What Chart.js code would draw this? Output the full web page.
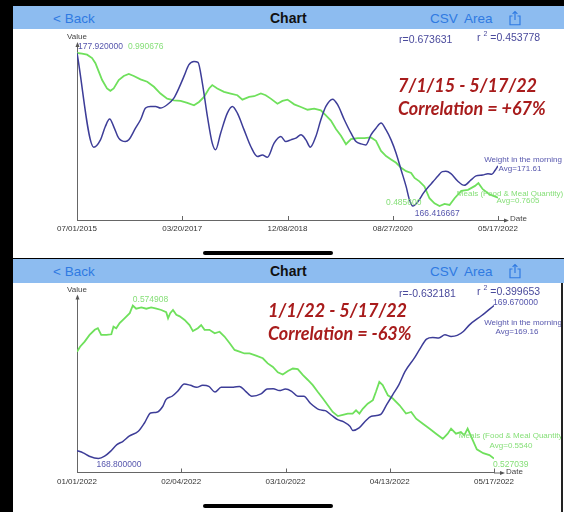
<!DOCTYPE html>
<html>
<head>
<meta charset="utf-8">
<script src="https://cdn.jsdelivr.net/npm/chart.js@4.4.1/dist/chart.umd.min.js"></script>
<style>
  body { margin: 0; width: 564px; height: 512px; background: #000; position: relative; overflow: hidden;
         font-family: "Liberation Sans", Arial, sans-serif; }
  .abs { position: absolute; }
  .panel { position: absolute; left: 13px; width: 551px; background: #fff; overflow: hidden; }
  .nav { position: absolute; left: 0; width: 551px; background: #8dbcf0; }
  .nav span { position: absolute; top: 50%; transform: translateY(-50%); white-space: nowrap; }
  .link { color: #2f7ae2; font-size: 13.5px; }
  .title { font-weight: bold; font-size: 14px; color: #111; }
  .home { position: absolute; left: 190px; width: 130px; height: 4px; border-radius: 2px; background: #000; }
  .rtxt { position: absolute; color: #4a4a9c; font-size: 10.5px; white-space: nowrap; }
  .rtxt sup { font-size: 7px; }
  .red { position: absolute; color: #a81c1c; font-family: "Lato", sans-serif;
         font-weight: bold; font-style: italic; font-size: 18px; white-space: nowrap; line-height: 23px; }
  canvas { position: absolute; left: 0; }
</style>
</head>
<body>

<div class="panel" style="top:6px;height:252px">
  <div class="nav" style="top:0;height:23px">
    <span class="link" style="left:40px">&lt; Back</span>
    <span class="title" style="left:257px">Chart</span>
    <span class="link" style="left:417px">CSV</span>
    <span class="link" style="left:451px">Area</span>
    <span style="left:496px;height:15px"><svg width="12" height="15" viewBox="0 0 12 15"><path d="M3.5 5.5H1v8.8h10V5.5H8.5M6 9.5V1M3.6 3.4L6 1l2.4 2.4" fill="none" stroke="#2f7ae2" stroke-width="1.2"/></svg></span>
  </div>
  <canvas id="chart1" width="551" height="228" style="top:23px"></canvas>
  <div class="home" style="top:245px"></div>
</div>

<div class="panel" style="top:259px;height:253px">
  <div class="nav" style="top:0;height:24px">
    <span class="link" style="left:40px">&lt; Back</span>
    <span class="title" style="left:257px">Chart</span>
    <span class="link" style="left:417px">CSV</span>
    <span class="link" style="left:451px">Area</span>
    <span style="left:496px;height:15px"><svg width="12" height="15" viewBox="0 0 12 15"><path d="M3.5 5.5H1v8.8h10V5.5H8.5M6 9.5V1M3.6 3.4L6 1l2.4 2.4" fill="none" stroke="#2f7ae2" stroke-width="1.2"/></svg></span>
  </div>
  <canvas id="chart2" width="548" height="229" style="top:24px"></canvas>
  <div class="home" style="top:245px"></div>
</div>
<div class="abs" style="left:561px;top:283px;width:2px;height:229px;background:#222"></div>

<div id="overlay"></div>

<script>
// ---- textes ----
const seriesNames = ['Weight in the morning', 'Meals (Food & Meal Quantity)'];
const periods = ['7/1/15 - 5/17/22', '1/1/22 - 5/17/22'];
const correlations = ['+67%', '-63%'];
const rValues = [0.673631, -0.632181];
const r2Values = [0.453778, 0.399653];

// ---- grafico 1: 07/01/2015 - 05/17/2022 (dias desde o inicio) ----
const tickDays1 = [0, 628, 1256, 1884, 2512];
const tickLabels1 = ['07/01/2015', '03/20/2017', '12/08/2018', '08/27/2020', '05/17/2022'];
const weightDays1 = [0, 100, 140, 169, 195, 219, 249, 289, 309, 349, 379, 409, 439, 469, 498, 538, 578, 608, 638, 668,
  698, 722, 748, 778, 807, 827, 857, 897, 927, 957, 997, 1037, 1077, 1106, 1136, 1176, 1216, 1246, 1276, 1306,
  1336, 1366, 1392, 1425, 1455, 1485, 1525, 1555, 1595, 1635, 1665, 1695, 1724, 1754, 1784, 1814, 1844, 1874, 1904, 1934,
  1964, 1984, 2004, 2034, 2068, 2100, 2125, 2152, 2180, 2201, 2231, 2271, 2311, 2351, 2381, 2421, 2452, 2475, 2495, 2512];
const weightVals1 = [177.92, 170.84, 171.39, 172.39, 172.95, 172.39, 171.52, 171.26, 171.39, 172.27, 172.90, 173.78, 173.90, 173.90, 173.78, 174.03, 174.53, 175.28, 176.16, 177.04,
  177.29, 177.22, 175.66, 173.15, 171.14, 170.64, 171.89, 173.40, 173.90, 173.40, 172.14, 170.89, 170.13, 170.26, 170.08, 171.14, 171.64, 171.26, 171.39, 171.52,
  171.77, 171.39, 170.84, 171.64, 172.90, 173.90, 174.45, 174.03, 172.90, 171.89, 171.26, 171.09, 171.01, 171.77, 172.27, 172.65, 172.14, 171.39, 170.39, 169.13,
  167.87, 166.87, 166.416667, 166.74, 167.40, 167.90, 168.25, 168.65, 169.00, 169.02, 168.85, 168.30, 167.97, 168.38, 168.68, 168.75, 168.85, 168.80, 169.10, 169.43];
const mealDays1 = [0, 30, 60, 90, 110, 130, 150, 179, 199, 219, 249, 279, 309, 339, 379, 419, 459, 498, 538, 578,
  618, 658, 698, 728, 758, 788, 807, 837, 877, 917, 957, 987, 1027, 1057, 1097, 1126, 1156, 1196, 1226, 1256,
  1296, 1336, 1376, 1415, 1455, 1485, 1515, 1545, 1575, 1605, 1635, 1675, 1714, 1754, 1784, 1814, 1844, 1874, 1904, 1934,
  1964, 1994, 2014, 2043, 2073, 2103, 2133, 2163, 2193, 2223, 2253, 2293, 2333, 2375, 2395, 2421, 2462, 2512];
const mealVals1 = [0.990676, 0.9884, 0.9851, 0.9739, 0.9572, 0.9294, 0.9015, 0.8736, 0.8658, 0.8736, 0.9015, 0.9149, 0.9216, 0.9149, 0.9037, 0.8959, 0.8792, 0.8569, 0.8401, 0.8346,
  0.8324, 0.8257, 0.8179, 0.8290, 0.8457, 0.8736, 0.8848, 0.8736, 0.8625, 0.8569, 0.8513, 0.8368, 0.8457, 0.8480, 0.8569, 0.8513, 0.8401, 0.8234, 0.8324, 0.8368,
  0.8212, 0.8123, 0.8034, 0.8067, 0.8011, 0.7844, 0.7677, 0.7398, 0.7175, 0.6896, 0.7064, 0.7097, 0.7097, 0.7119, 0.7008, 0.6673, 0.6506, 0.6394, 0.6283, 0.6116,
  0.6004, 0.5949, 0.5781, 0.5670, 0.5503, 0.5112, 0.4945, 0.4856, 0.4923, 0.4889, 0.5112, 0.5357, 0.5391, 0.5520, 0.5610, 0.5410, 0.5240, 0.5130];
const averages1 = ['171.61', '0.7605'];

// ---- grafico 2: 01/01/2022 - 05/17/2022 ----
const tickDays2 = [0, 34, 68, 102, 136];
const tickLabels2 = ['01/01/2022', '02/04/2022', '03/10/2022', '04/13/2022', '05/17/2022'];
const weightDays2 = [0, 2, 4, 7, 9, 11, 13, 15, 17, 20, 22, 24, 26, 28, 29, 31, 33, 35, 37, 39,
  41, 43, 45, 47, 49, 51, 53, 55, 57, 60, 62, 64, 66, 68, 70, 72, 74, 76, 79, 81,
  83, 85, 87, 89, 90, 92, 94, 96, 99, 101, 103, 105, 107, 110, 112, 114, 116, 118, 120, 122,
  124, 126, 128, 132, 136];
const weightVals2 = [168.845, 168.832, 168.813, 168.800, 168.813, 168.842, 168.879, 168.898, 168.927, 168.955, 169.002, 169.059, 169.063, 169.097, 169.135, 169.154, 169.186, 169.224, 169.216, 169.205,
  169.216, 169.210, 169.178, 169.205, 169.205, 169.205, 169.210, 169.182, 169.154, 169.167, 169.195, 169.197, 169.186, 169.195, 169.182, 169.154, 169.154, 169.116, 169.078, 169.072,
  169.046, 169.021, 169.008, 168.983, 168.959, 168.974, 169.012, 169.040, 169.050, 169.106, 169.163, 169.220, 169.295, 169.371, 169.428, 169.479, 169.488, 169.485, 169.503, 169.494,
  169.500, 169.522, 169.560, 169.613, 169.670];
const mealDays2 = [0, 1, 2.5, 4.1, 5.8, 6.8, 7.9, 9.6, 11.2, 11.9, 12.8, 13.9, 15.5, 17.2, 18.2, 19.3, 21, 22.6, 24.2, 25.9,
  27.5, 29.1, 29.7, 30.4, 31.3, 32.4, 33.5, 35.1, 36.7, 37.8, 39.4, 40.5, 41.6, 43.2, 44.9, 46.5, 48.1, 49.8, 51.4, 53,
  54.6, 56.3, 58.4, 60.6, 62.2, 63.9, 65.5, 67.1, 68.8, 70.4, 72, 73.7, 75.3, 76.9, 78.5, 80.2, 81.8, 83.4, 85.1, 86.7,
  88.3, 89.9, 91, 92.1, 93.2, 94.8, 96.5, 97.5, 98.6, 99.7, 101.4, 103, 105.2, 107.3, 109, 110.6, 112.8, 114.9, 117.1, 119.3,
  120.9, 122, 123.6, 125.2, 126.3, 127.4, 128.7, 130.4, 132.5, 134.5, 136];
const mealVals2 = [0.5604, 0.5620, 0.5636, 0.5657, 0.5673, 0.5678, 0.5657, 0.5657, 0.5659, 0.5683, 0.5678, 0.5694, 0.5709, 0.5725, 0.574908, 0.5739, 0.5743, 0.5739, 0.5743, 0.5739,
  0.5735, 0.5728, 0.5709, 0.5725, 0.5735, 0.5720, 0.5715, 0.5704, 0.5688, 0.5669, 0.5678, 0.5688, 0.5673, 0.5673, 0.5662, 0.5667, 0.5652, 0.5631, 0.5610, 0.5605,
  0.5599, 0.5599, 0.5592, 0.5584, 0.5568, 0.5557, 0.5540, 0.5533, 0.5544, 0.5552, 0.5550, 0.5531, 0.5516, 0.5500, 0.5479, 0.5458, 0.5437, 0.5416, 0.5403, 0.5407,
  0.5411, 0.5411, 0.5421, 0.5411, 0.5426, 0.5442, 0.5453, 0.5479, 0.5510, 0.5500, 0.5468, 0.5458, 0.5437, 0.5411, 0.5416, 0.5395, 0.5379, 0.5364, 0.5348, 0.5332,
  0.5348, 0.5364, 0.5348, 0.5353, 0.5343, 0.5364, 0.5336, 0.5299, 0.5287, 0.5281, 0.527039];
const averages2 = ['169.16', '0.5540'];

const BLUE = '#3d3d98', GREEN = '#6fe05c';
const BLUE_TXT = '#5656ad', GREEN_TXT = '#86df78';

// escala: max dos dados 2px abaixo do topo, min 14px acima do eixo (area de 169px)
function yRange(vals) {
  const mx = Math.max(...vals), mn = Math.min(...vals);
  const u = (mx - mn) / 153;
  return { min: mn - 14 * u, max: mx + 2 * u };
}

function pointOf(chart, ds, which) {
  const data = chart.data.datasets[ds].data;
  let idx = 0;
  if (which === 'last') idx = data.length - 1;
  if (which === 'max' || which === 'min') {
    data.forEach((p, i) => {
      if (which === 'max' ? p.y > data[idx].y : p.y < data[idx].y) idx = i;
    });
  }
  const el = chart.getDatasetMeta(ds).data[idx];
  return { x: el.x, y: el.y, v: data[idx].y };
}

// eixos com setas, marcas e rotulos sobre os pontos
const decor = {
  id: 'decor',
  beforeDatasetsDraw(chart) {
    const { ctx, chartArea: a, scales } = chart;
    ctx.save();
    ctx.strokeStyle = '#666';
    ctx.fillStyle = '#555';
    ctx.lineWidth = 1;
    ctx.beginPath();
    ctx.moveTo(a.left + 0.5, a.bottom);
    ctx.lineTo(a.left + 0.5, a.top - 6);
    ctx.moveTo(a.right, a.bottom + 0.5);
    ctx.lineTo(a.right + 8, a.bottom + 0.5);
    scales.x.ticks.forEach(t => {
      const px = Math.round(scales.x.getPixelForValue(t.value)) + 0.5;
      ctx.moveTo(px, a.bottom);
      ctx.lineTo(px, a.bottom - 4);
    });
    ctx.stroke();
    ctx.beginPath();
    ctx.moveTo(a.left + 0.5, a.top - 9);
    ctx.lineTo(a.left - 1.5, a.top - 4);
    ctx.lineTo(a.left + 2.5, a.top - 4);
    ctx.fill();
    ctx.beginPath();
    ctx.moveTo(a.right + 11, a.bottom + 0.5);
    ctx.lineTo(a.right + 6, a.bottom - 1.5);
    ctx.lineTo(a.right + 6, a.bottom + 2.5);
    ctx.fill();
    ctx.font = '8px "Liberation Sans"';
    ctx.fillStyle = '#444';
    ctx.textBaseline = 'middle';
    ctx.textAlign = 'center';
    ctx.fillText('Value', a.left, a.top - 14);
    ctx.textAlign = 'left';
    ctx.fillText('Date', a.right + 12, a.bottom - 1);
    ctx.restore();
  },
  afterDatasetsDraw(chart, args, opts) {
    const { ctx } = chart;
    ctx.save();
    ctx.textBaseline = 'middle';
    opts.notes.forEach(n => {
      const p = pointOf(chart, n.ds, n.at);
      ctx.font = n.size + 'px "Liberation Sans"';
      ctx.fillStyle = n.ds === 0 ? BLUE_TXT : GREEN_TXT;
      ctx.textAlign = n.align;
      const txt = typeof n.text === 'function' ? n.text(p.v) : n.text;
      ctx.fillText(txt, p.x + n.dx, p.y + n.dy);
    });
    ctx.restore();
  }
};

function makeChart(id, wDays, wVals, mDays, mVals, tickDays, tickLabels, pad, notes) {
  const yw = yRange(wVals), ym = yRange(mVals);
  return new Chart(document.getElementById(id), {
    type: 'line',
    data: {
      datasets: [
        { label: seriesNames[0], data: wDays.map((d, i) => ({ x: d, y: wVals[i] })), yAxisID: 'yw',
          borderColor: BLUE, borderWidth: 1.5, cubicInterpolationMode: 'monotone' },
        { label: seriesNames[1], data: mDays.map((d, i) => ({ x: d, y: mVals[i] })), yAxisID: 'ym',
          borderColor: GREEN, borderWidth: 1.8, tension: 0 }
      ]
    },
    options: {
      responsive: false,
      animation: false,
      layout: { padding: pad },
      elements: { point: { radius: 0 } },
      plugins: { legend: { display: false }, tooltip: { enabled: false }, decor: { notes: notes } },
      scales: {
        x: {
          type: 'linear', min: tickDays[0], max: tickDays[tickDays.length - 1],
          afterBuildTicks: s => { s.ticks = tickDays.map(v => ({ value: v })); },
          afterFit: s => { s.height = 20; },
          grid: { display: false, drawTicks: false },
          border: { display: true, color: '#666', width: 1 },
          ticks: { autoSkip: false, maxRotation: 0, padding: 4, color: '#333',
                   font: { family: 'Liberation Sans', size: 8 },
                   callback: v => tickLabels[tickDays.indexOf(v)] }
        },
        yw: { display: false, min: yw.min, max: yw.max },
        ym: { display: false, min: ym.min, max: ym.max }
      }
    },
    plugins: [decor]
  });
}

const six = v => v.toFixed(6);

makeChart('chart1', weightDays1, weightVals1, mealDays1, mealVals1, tickDays1, tickLabels1,
  { left: 64, right: 66, top: 22, bottom: 17 },
  [
    { ds: 0, at: 'max', text: six, dx: 1, dy: -6, align: 'left', size: 8.5 },
    { ds: 1, at: 'max', text: six, dx: 51, dy: -6, align: 'left', size: 8.5 },
    { ds: 0, at: 'min', text: six, dx: 2, dy: 8, align: 'left', size: 8.5 },
    { ds: 1, at: 'min', text: six, dx: -18, dy: -3, align: 'right', size: 8.5 },
    { ds: 0, at: 'last', text: seriesNames[0], dx: 25, dy: -6, align: 'center', size: 8 },
    { ds: 0, at: 'last', text: 'Avg=' + averages1[0], dx: 22, dy: 3, align: 'center', size: 8 },
    { ds: 1, at: 'last', text: seriesNames[1], dx: 12, dy: -4, align: 'center', size: 8 },
    { ds: 1, at: 'last', text: 'Avg=' + averages1[1], dx: 20, dy: 3, align: 'center', size: 8 }
  ]);

makeChart('chart2', weightDays2, weightVals2, mealDays2, mealVals2, tickDays2, tickLabels2,
  { left: 64, right: 67, top: 20.5, bottom: 19.5 },
  [
    { ds: 1, at: 'max', text: six, dx: 0, dy: -6, align: 'left', size: 8.5 },
    { ds: 0, at: 'min', text: six, dx: -2, dy: 6, align: 'left', size: 8.5 },
    { ds: 0, at: 'max', text: six, dx: -1, dy: -2.5, align: 'left', size: 8.5 },
    { ds: 1, at: 'min', text: six, dx: -1, dy: 6, align: 'left', size: 8.5 },
    { ds: 0, at: 'last', text: seriesNames[0], dx: 29, dy: 17, align: 'center', size: 8 },
    { ds: 0, at: 'last', text: 'Avg=' + averages2[0], dx: 23, dy: 26, align: 'center', size: 8 },
    { ds: 1, at: 'last', text: seriesNames[1], dx: 18, dy: -23, align: 'center', size: 8 },
    { ds: 1, at: 'last', text: 'Avg=' + averages2[1], dx: 17, dy: -13, align: 'center', size: 8 }
  ]);

// r, r2 e titulos em vermelho
const spots = [
  { rLeft: 399, r2Left: 477, rTop: 33, redLeft: 398, redTop: 74 },
  { rLeft: 399, r2Left: 477, rTop: 287, redLeft: 268, redTop: 299 }
];
const overlay = document.getElementById('overlay');
spots.forEach((s, i) => {
  overlay.insertAdjacentHTML('beforeend',
    `<div class="rtxt" style="left:${s.rLeft}px;top:${s.rTop}px">r=${rValues[i].toFixed(6)}</div>` +
    `<div class="rtxt" style="left:${s.r2Left}px;top:${s.rTop - 3}px">r <sup>2</sup> =${r2Values[i].toFixed(6)}</div>` +
    `<div class="red" style="left:${s.redLeft}px;top:${s.redTop}px">${periods[i]}<br>Correlation = ${correlations[i]}</div>`);
});
</script>
</body>
</html>
